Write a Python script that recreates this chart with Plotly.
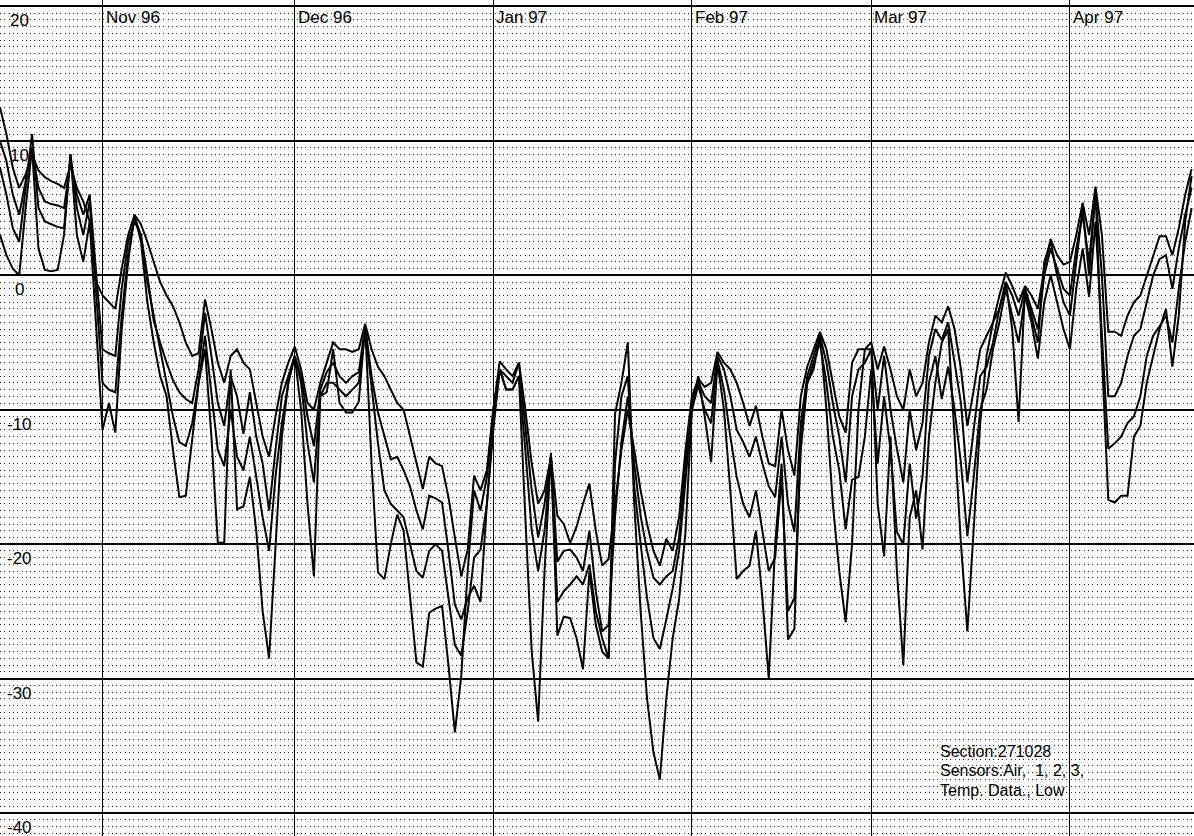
import pandas as pd
import plotly.graph_objects as go

# Daily low temperatures, 16 Oct 1996 .. 20 Apr 1997 (deg C)
start_date = "1996-10-16"

air = [
    3, 1.5, 0.5, 0, 5, 9.5, 2, 0.4, 0.3, 0.4,
    3, 9, 3, 1, 4, -4, -11.5, -9.5, -11.7, -4,
    1, 4.5, 2.5, -2, -5, -7.5, -9, -13, -16.5, -16.4,
    -12, -8, -5.5, -12, -19.9, -19.9, -7, -17.4, -17.2, -15,
    -19, -25, -28.5, -20, -12, -8, -6, -10, -17, -22.4,
    -9, -8.7, -5.5, -9.5, -10.2, -10.2, -9.4, -3.8, -14, -22.1,
    -22.6, -20, -17.8, -19, -24, -28.8, -29.1, -25.1, -24.8, -24.6,
    -29, -34, -29.8, -22, -16, -17.5, -15, -10, -7, -8.5,
    -8.5, -7.5, -18, -28, -33.2, -22, -13.2, -26.8, -25.4, -25.5,
    -27, -29.3, -22, -26, -28, -28.5, -10.3, -8, -5, -17,
    -25, -31.5, -35.5, -37.5, -31.5, -27, -24.1, -19.1, -10, -7.5,
    -10.5, -13.9, -6.5, -10, -16, -22.6, -22, -21.6, -19, -24,
    -30, -20, -14, -27.1, -26.3, -12, -8, -7, -4.4, -10,
    -17, -22, -25.8, -20, -10, -5.5, -5.5, -17, -20.9, -12,
    -22, -29, -18, -16, -20.4, -12, -8, -5, -4, -12,
    -20, -26.5, -19, -11, -6, -3.5, -2.5, -0.5, -4, -10.9,
    -1, -3, -5, 1, 2.5, 0, -2, -3, 1, 5,
    0, 6.3, -6, -16.7, -16.9, -16.4, -16.4, -12, -11.2, -8,
    -6, -4, -2.5, -6.8, -3, 4, 7.4,
]

sensor1 = [
    8, 6, 3.5, 2.5, 6.5, 10.5, 5, 4, 3.8, 3.6,
    3.5, 9, 5, 3, 5.5, -1.5, -8, -8.5, -8.7, -3,
    1.5, 4.3, 3, -0.5, -3, -5.5, -8, -10.5, -12.4, -12.7,
    -11, -8, -4.5, -9, -13, -14.2, -10, -13.5, -14.5, -12,
    -15, -18, -20.5, -15, -11, -8, -6, -8, -12.5, -15.4,
    -9, -8, -8, -8.5, -9, -8.5, -8, -4, -8.5, -12.5,
    -16, -17, -17.5, -18, -20, -22, -22.5, -20.5, -20, -20.5,
    -24, -27.5, -28.3, -25, -21, -20.4, -17, -11.5, -7, -8.5,
    -8.5, -7.5, -13, -19, -22, -19, -13.5, -24.3, -23.5, -23,
    -22.4, -23, -21.5, -25, -27, -28.5, -14, -9, -7.5, -15.7,
    -20, -24, -27, -27.8, -25.6, -23.3, -20.5, -15, -10, -8.2,
    -10, -11, -6.3, -8.5, -12, -15, -17, -18, -16, -19,
    -22, -21, -15, -25, -24, -13, -8, -6.5, -5, -8,
    -12, -14.5, -18.9, -15.2, -15, -12, -7, -14, -9, -13,
    -19.1, -20, -14, -18.1, -15, -8, -6, -9.2, -6.8, -10,
    -14, -19.4, -15, -10, -8.5, -5.5, -3.5, -1, -3, -5,
    -1.5, -3.5, -6.2, -2, 0, -2, -4, -5.5, -1, 2,
    -1.6, 4, -4, -12.9, -12.5, -12, -11, -10.5, -9, -6,
    -4.5, -3.8, -3, -5, -1, 2.5, 5,
]

sensor2 = [
    10, 8.5, 6, 4.5, 7, 9.5, 6.5, 5.5, 5.3, 5.2,
    5, 8.5, 6, 4.5, 6, 0, -5.5, -5.8, -6, -1,
    2.5, 4, 3, 0, -3.4, -5, -6.5, -7.8, -8.7, -9.2,
    -9.5, -7, -2.8, -6, -9.5, -11.2, -7.5, -9, -11.8, -8.7,
    -12, -14, -17.5, -13, -9, -7.5, -6, -7.5, -10.5, -12.7,
    -8.5, -7.2, -6.5, -7.5, -8, -7.5, -7.2, -3.8, -7.5, -10.2,
    -12, -13.7, -13.5, -14.5, -15.7, -17.5, -18.9, -16.4, -16.6, -16.9,
    -20.5, -24.5, -25.6, -24, -23.1, -24.3, -17, -11, -7, -7.5,
    -8, -6.5, -11, -16, -19.5, -17, -13.5, -21.3, -20.5, -20.4,
    -21, -22, -19, -23.5, -26.5, -26, -18, -12.4, -9, -14,
    -17.9, -20.5, -22.5, -23, -22.4, -22, -19.5, -14, -9.5, -7.9,
    -9, -9.5, -6, -7, -9, -11.5, -12.4, -13.5, -12, -14,
    -15.7, -16.5, -12, -17, -19.1, -11, -7.5, -6, -4.5, -6.5,
    -9.5, -12, -15.4, -9, -7, -6.5, -5.5, -10, -6, -10,
    -12.9, -15.4, -10, -13, -11, -6, -4, -4.8, -3.5, -6.5,
    -9.5, -15.4, -11.5, -7.5, -6.8, -5, -2.5, -0.5, -1.5, -3,
    -1, -2.5, -4, 0, 2, 0.5, -1, -1.5, 2, 4.5,
    1, 6, 0, -9, -9, -8, -6, -4.5, -4, -2,
    0, 1.2, 1.5, -1, 2, 4.5, 6.5,
]

sensor3 = [
    12.5, 10.5, 8, 6.5, 7.5, 9, 7.8, 7.3, 7, 6.8,
    6.5, 8.2, 6.5, 5.5, 4, -0.5, -1.5, -2, -2.5, 0.5,
    3, 4.5, 3.8, 2.5, 1, -0.5, -1.5, -2.3, -3.5, -5,
    -6, -5.8, -1.8, -4, -6.5, -8, -6, -5.5, -6.5, -7,
    -9.5, -12, -13.5, -10.5, -8, -6.5, -5.3, -7, -9.5, -10,
    -8, -6.5, -5, -5.5, -5.5, -5.7, -5.5, -3.6, -5.5, -6.8,
    -7.5, -8.5, -9.5, -10, -12, -13.9, -15.9, -13.5, -14, -14.2,
    -16.5, -19.5, -22.4, -20.4, -14.9, -16, -14.5, -10, -6.4, -7,
    -7.5, -6.5, -10, -14, -17, -16, -13.5, -17.9, -18.5, -19.9,
    -18.7, -17, -15.5, -19, -21.6, -21.1, -17, -13, -10, -13,
    -16, -18.5, -20.5, -21.6, -19.6, -20.5, -18, -13, -9, -7.7,
    -8.3, -8, -5.7, -6.5, -7, -8, -9.5, -11.2, -9.7, -12,
    -14, -14.2, -10, -13, -14.9, -9, -6.8, -5.5, -4.2, -5.5,
    -8, -10.5, -11.7, -6.5, -5.5, -5.5, -5, -7, -5.3, -7,
    -9, -10, -7, -9, -8, -5, -3, -3.5, -2.3, -4,
    -7, -11.2, -8.5, -5.5, -4.5, -3.5, -1.5, 0.2, -0.8, -2,
    -0.8, -1.5, -2.5, 0.5, 2.7, 1.5, 0.8, 1, 3, 5.4,
    3, 6.6, 3, -4.2, -4.2, -4.5, -3, -2, -1.5, 0,
    1.5, 2.9, 2.9, 1.5, 3.5, 6, 7.9,
]

series_names = ["Air", "1", "2", "3"]
series_values = [air, sensor1, sensor2, sensor3]

month_starts = ["1996-11-01", "1996-12-01", "1997-01-01", "1997-02-01", "1997-03-01", "1997-04-01"]
month_labels = ["Nov 96", "Dec 96", "Jan 97", "Feb 97", "Mar 97", "Apr 97"]
y_ticks = [20, 10, 0, -10, -20, -30, -40]
y_labels = ["20", "10", "0", "-10", "-20", "-30", "-40"]
info_lines = ["Section:271028", "Sensors:Air,  1, 2, 3,", "Temp. Data., Low"]

W, H = 1194, 836
FONT = "Liberation Sans, Arial, sans-serif"

fig = go.Figure()
for name, vals in zip(series_names, series_values):
    dates = pd.date_range(start_date, periods=len(vals), freq="D")
    fig.add_trace(go.Scatter(
        x=dates, y=vals, mode="lines", name=name,
        line=dict(color="black", width=2), showlegend=False,
    ))

fig.update_layout(
    width=W, height=H,
    margin=dict(l=0, r=0, t=0, b=0, pad=0),
    paper_bgcolor="white", plot_bgcolor="white",
    showlegend=False,
    font=dict(family=FONT, size=17, color="black"),
)

fig.update_xaxes(
    range=["1996-10-16 00:00", "1997-04-20 09:00"],
    tickmode="array", tickvals=month_starts, showticklabels=False,
    showgrid=True, gridcolor="black", gridwidth=1,
    zeroline=False, showline=False, ticks="",
)
fig.update_yaxes(
    range=[-41.71, 20.48],
    tickmode="array", tickvals=y_ticks, showticklabels=False,
    showgrid=True, gridcolor="black", gridwidth=1.5,
    zeroline=False, showline=False, ticks="",
    minor=dict(tick0=0, dtick=0.5, showgrid=True, gridcolor="#222222",
               gridwidth=1, griddash="1px,3.3px", ticks=""),
)

for d, lab in zip(month_starts, month_labels):
    fig.add_annotation(x=d, y=1, xref="x", yref="paper", text=lab,
                       showarrow=False, xanchor="left", yanchor="top",
                       xshift=1, yshift=-6, font=dict(size=17, family=FONT))

for v, lab in zip(y_ticks, y_labels):
    fig.add_annotation(x=0, y=v, xref="paper", yref="y", text=lab,
                       showarrow=False, xanchor="center", yanchor="top",
                       xshift=19, yshift=-3, font=dict(size=17, family=FONT))

for i, line in enumerate(info_lines):
    fig.add_annotation(x=938 / W, y=1 - (751 + 19.5 * i) / H, xref="paper", yref="paper",
                       text=line, showarrow=False, xanchor="left", yanchor="middle",
                       font=dict(size=16, family=FONT))

fig.write_html("out.html",
               config={"displayModeBar": False},
               post_script="document.body.style.margin='0';document.body.style.padding='0';")
